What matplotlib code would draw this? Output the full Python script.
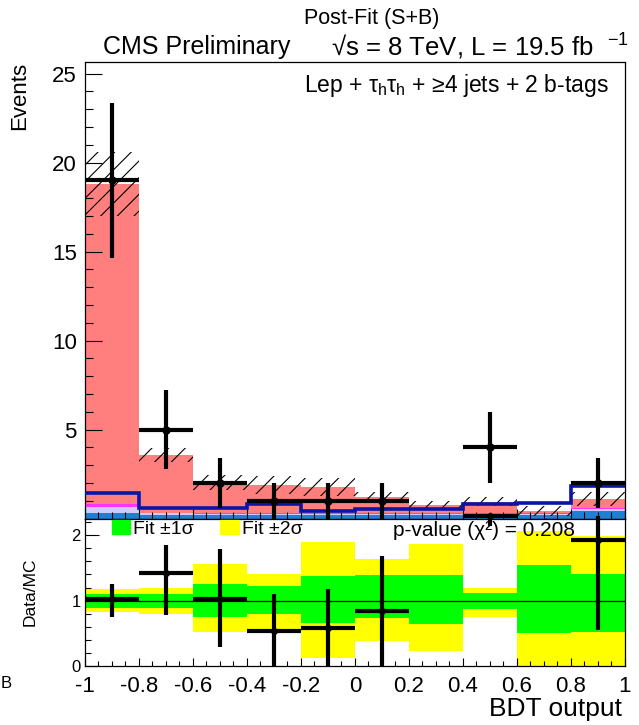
import numpy as np
import matplotlib
matplotlib.use('Agg')
import matplotlib.pyplot as plt
from matplotlib.ticker import MultipleLocator, FuncFormatter
from matplotlib.patches import Patch

plt.rcParams['font.family'] = ['Liberation Sans', 'DejaVu Sans']
plt.rcParams['mathtext.fontset'] = 'custom'
plt.rcParams['mathtext.rm'] = 'Liberation Sans'
plt.rcParams['mathtext.it'] = 'Liberation Sans'
plt.rcParams['mathtext.bf'] = 'Liberation Sans:bold'
plt.rcParams['axes.unicode_minus'] = False
plt.rcParams['hatch.linewidth'] = 0.8

# binning of BDT output
bin_lo = [-1.0, -0.8, -0.6, -0.4, -0.2, 0.0, 0.2, 0.4, 0.6, 0.8]
bin_w = 0.2

# observed data
data = [19, 5, 2, 1, 1, 1, 0, 4, 0, 2]
data_err = [4.36, 2.24, 1.41, 1.0, 1.0, 1.0, 0.0, 2.0, 0.0, 1.41]

# post-fit stack (bottom -> top)
bkg_blue = [0.30, 0.22, 0.22, 0.22, 0.20, 0.22, 0.22, 0.22, 0.22, 0.45]
bkg_lav = [0.34, 0.08, 0.05, 0.05, 0.04, 0.05, 0.05, 0.05, 0.05, 0.10]
bkg_mag = [0.15, 0.02, 0.02, 0.02, 0.06, 0.02, 0.02, 0.02, 0.02, 0.02]
bkg_tt = [18.01, 3.23, 1.71, 1.59, 1.45, 0.91, 0.49, 0.66, 0.13, 0.51]
mc_err = [1.8, 0.4, 0.42, 0.5, 0.5, 0.3, 0.2, 0.25, 0.3, 0.4]

# signal line (not stacked)
signal = [1.44, 0.58, 0.58, 0.79, 0.45, 0.51, 0.51, 0.84, 0.88, 1.85]

# ratio panel
ratio = [1.02, 1.42, 1.03, 0.54, 0.59, 0.84, np.nan, 4.2, np.nan, 1.93]
ratio_lo = [0.26, 0.64, 0.73, 0.54, 0.59, 0.84, 0.0, 2.07, 0.0, 1.37]
ratio_hi = [0.24, 0.43, 0.76, 0.56, 0.59, 0.84, 0.0, 2.1, 0.0, 1.4]
green_lo = [0.89, 0.89, 0.76, 0.80, 0.66, 0.73, 0.64, 0.88, 0.51, 0.52]
green_hi = [1.10, 1.10, 1.26, 1.22, 1.38, 1.39, 1.39, 1.12, 1.54, 1.41]
yellow_lo = [0.83, 0.80, 0.52, 0.52, 0.125, 0.39, 0.23, 0.76, 0.0, 0.0]
yellow_hi = [1.18, 1.20, 1.56, 1.41, 1.90, 1.63, 1.87, 1.20, 2.06, 1.98]

lo = np.array(bin_lo)
cen = lo + bin_w / 2
edges = np.append(lo, lo[-1] + bin_w)

fig = plt.figure(figsize=(6.39, 7.25), dpi=100)
ax = fig.add_axes([0.133, 0.2848, 0.845, 0.630])
ax2 = fig.add_axes([0.133, 0.0807, 0.845, 0.2041])

# --- top panel
bottom = np.zeros(len(lo))
for vals, col in [(bkg_blue, '#1f7fd3'), (bkg_lav, '#ccccff'),
                  (bkg_mag, '#ff33ff'), (bkg_tt, '#ff7f7f')]:
    ax.bar(lo, vals, width=bin_w, bottom=bottom, align='edge', color=col,
           linewidth=0, zorder=1)
    bottom = bottom + np.array(vals)
total = bottom
err = np.array(mc_err)
ax.bar(lo, 2 * err, width=bin_w, bottom=total - err, align='edge', fill=False,
       hatch='//', edgecolor='black', linewidth=0, zorder=2)
ax.stairs(signal, edges, baseline=None, color='#0a14a8', linewidth=2.6, zorder=3)

d = np.array(data, dtype=float)
m = d > 0
ax.errorbar(cen[m], d[m], xerr=bin_w / 2, yerr=np.array(data_err)[m], fmt='o',
            color='black', ms=5, elinewidth=3, capsize=0, zorder=5)

ax.set_xlim(-1, 1)
ax.set_ylim(0, 25.66)
ax.set_yticks([5, 10, 15, 20, 25])
ax.yaxis.set_minor_locator(MultipleLocator(1))
ax.xaxis.set_major_locator(MultipleLocator(0.2))
ax.xaxis.set_minor_locator(MultipleLocator(0.05))
ax.tick_params(which='both', direction='in', top=False, right=False,
               labelbottom=False, width=0.8)
ax.tick_params(axis='y', which='major', length=12, labelsize=16, pad=6)
ax.tick_params(axis='y', which='minor', length=6)
ax.tick_params(axis='x', which='major', length=7)
ax.tick_params(axis='x', which='minor', length=5)
for s in ax.spines.values():
    s.set_linewidth(0.9)
ax.set_ylabel('Events', fontsize=16, loc='top')
ax.yaxis.set_label_coords(-0.102, 1.0)
ax.text(0.969, 0.947, r'Lep + $\tau_{h}\tau_{h}$ + ≥4 jets + 2 b-tags',
        transform=ax.transAxes, ha='right', va='center', fontsize=16.5)

fig.text(0.582, 0.975, 'Post-Fit (S+B)', ha='center', va='center', fontsize=15.5)
fig.text(0.308, 0.935, 'CMS Preliminary', ha='center', va='center', fontsize=18)
fig.text(0.518, 0.935, r'√s = 8 TeV, L = 19.5 fb  $^{-1}$', ha='left',
         va='center', fontsize=18.5)
fig.text(0.001, 0.057, 'B', ha='left', va='center', fontsize=12)

# --- ratio panel
ax2.bar(lo, np.array(yellow_hi) - np.array(yellow_lo), width=bin_w,
        bottom=yellow_lo, align='edge', color='#ffff00', linewidth=0, zorder=1)
ax2.bar(lo, np.array(green_hi) - np.array(green_lo), width=bin_w,
        bottom=green_lo, align='edge', color='#00ff00', linewidth=0, zorder=2)
ax2.axhline(1, color='black', linewidth=0.9, zorder=3)

rmax = 2.29
r = np.array(ratio)
ok = ~np.isnan(r)
r_end_lo = r - np.array(ratio_lo)
r_end_hi = np.minimum(r + np.array(ratio_hi), rmax)
r_show = np.minimum(r, rmax)
ax2.errorbar(cen[ok], r_show[ok], xerr=bin_w / 2,
             yerr=[(r_show - r_end_lo)[ok], (r_end_hi - r_show)[ok]],
             fmt='o', color='black', ms=4, elinewidth=3, capsize=0,
             zorder=5, clip_on=False)

ax2.set_xlim(-1, 1)
ax2.set_ylim(0, 2.25)
ax2.set_yticks([0, 1, 2])
ax2.yaxis.set_minor_locator(MultipleLocator(0.2))
ax2.xaxis.set_major_locator(MultipleLocator(0.2))
ax2.xaxis.set_minor_locator(MultipleLocator(0.05))
ax2.xaxis.set_major_formatter(FuncFormatter(lambda v, p: '%g' % (0 if abs(v) < 1e-9 else v)))
ax2.tick_params(which='both', direction='in', top=False, right=False, width=0.8)
ax2.tick_params(axis='y', which='major', length=10, labelsize=12, pad=3)
ax2.tick_params(axis='y', which='minor', length=4.5)
ax2.tick_params(axis='x', which='major', length=6, labelsize=16, pad=7)
ax2.tick_params(axis='x', which='minor', length=3.5)
for s in ax2.spines.values():
    s.set_linewidth(0.9)
ax2.set_ylabel('Data/MC', fontsize=12.5)
ax2.yaxis.set_label_coords(-0.087, 0.503)
ax2.set_xlabel('BDT output', fontsize=19, loc='right')
ax2.xaxis.label.set_va('center')
ax2.xaxis.set_label_coords(0.994, -0.287)

handles = [Patch(color='#00ff00', label='Fit ±1σ'),
           Patch(color='#ffff00', label='Fit ±2σ')]
ax2.legend(handles=handles, loc='upper left', bbox_to_anchor=(0.046, 1.0), ncol=2,
           frameon=False, fontsize=14, handlelength=0.95, handleheight=0.72,
           handletextpad=0.15, columnspacing=1.35, borderaxespad=0, borderpad=0.1)
ax2.text(0.57, 0.92, 'p-value (χ²) = 0.208', transform=ax2.transAxes,
         ha='left', va='center', fontsize=15)

fig.savefig('out.png', dpi=100)
